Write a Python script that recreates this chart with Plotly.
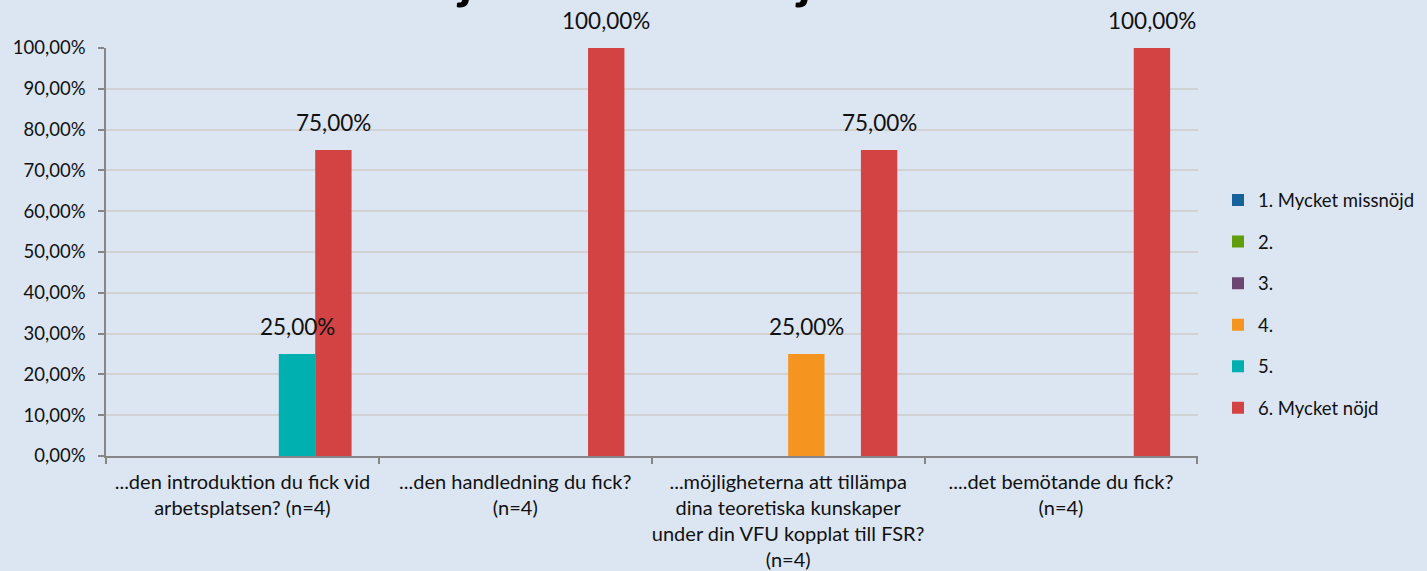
import plotly.graph_objects as go

categories = [
    "...den introduktion du fick vid<br>arbetsplatsen? (n=4)",
    "...den handledning du fick?<br>(n=4)",
    "...möjligheterna att tillämpa<br>dina teoretiska kunskaper<br>under din VFU kopplat till FSR?<br>(n=4)",
    "....det bemötande du fick?<br>(n=4)",
]
series_names = ["1. Mycket missnöjd", "2.", "3.", "4.", "5.", "6. Mycket nöjd"]
s1 = [0, 0, 0, 0]
s2 = [0, 0, 0, 0]
s3 = [0, 0, 0, 0]
s4 = [0, 0, 0.25, 0]
s5 = [0.25, 0, 0, 0]
s6 = [0.75, 1.0, 0.75, 1.0]
series_values = [s1, s2, s3, s4, s5, s6]
colors = ["#17629A", "#5F9D0B", "#6C4572", "#F5941F", "#00AFAF", "#D34344"]
title_text = "Hur nöjd eller missnöjd är du med..."

FONT = "Lato"
W, H = 1427, 571
ML, MR, MT, MB = 106, 229, 48, 115
BARGAP = 0.2
plot_w = W - ML - MR
plot_h = H - MT - MB
bar_w = plot_w / len(categories) * (1 - BARGAP) / len(series_names)

fig = go.Figure()
for i, (name, vals) in enumerate(zip(series_names, series_values)):
    fig.add_trace(go.Bar(
        x=categories, y=vals, name=name, marker_color=colors[i],
        marker_line_width=0, legendgroup=str(i),
    ))

annotations = []
for i, vals in enumerate(series_values):
    for c, v in zip(categories, vals):
        if v > 0:
            annotations.append(dict(
                x=c, y=v, xref="x", yref="y", text=f"{v*100:.2f}".replace(".", ",") + "%",
                showarrow=False, yanchor="bottom", xanchor="center",
                xshift=(i - 2.5) * bar_w, yshift=12,
                font=dict(family=FONT, size=22.5, color="#111111"),
            ))

annotations.append(dict(
    x=(712 - ML) / plot_w, y=1, xref="paper", yref="paper", text="<b>" + title_text + "</b>",
    showarrow=False, yanchor="bottom", xanchor="center", yshift=37,
    font=dict(family=FONT, size=53.5, color="#000000"),
))

fig.update_layout(
    width=W, height=H,
    margin=dict(l=ML, r=MR, t=MT, b=MB, pad=0, autoexpand=False),
    paper_bgcolor="#DCE6F2", plot_bgcolor="#DCE6F2",
    barmode="group", bargap=BARGAP, bargroupgap=0,
    separators=", ",
    font=dict(family=FONT, color="#111111"),
    showlegend=True,
    legend=dict(
        xref="container", x=1218 / W, xanchor="left",
        yref="paper", y=(H - MB - 304) / plot_h, yanchor="middle",
        bgcolor="rgba(0,0,0,0)", font=dict(family=FONT, size=18.5, color="#111111"),
        tracegroupgap=14.5, traceorder="grouped",
    ),
    annotations=annotations,
)
fig.update_yaxes(
    range=[0, 1], tickformat=".2%", dtick=0.1, automargin=False,
    showgrid=True, gridcolor="#D2D2D2", gridwidth=1.5,
    showline=True, linecolor="#868686", linewidth=1.5,
    ticks="outside", ticklen=6, tickcolor="#868686", tickwidth=1.5,
    ticklabelstandoff=9,
    zeroline=False, tickfont=dict(family=FONT, size=18.5, color="#111111"),
)
fig.update_xaxes(
    showline=True, linecolor="#868686", linewidth=1.5, automargin=False, tickangle=0,
    ticks="outside", ticklen=6, tickcolor="#868686", tickwidth=1.5,
    tickson="boundaries", showgrid=False, ticklabelstandoff=7,
    tickfont=dict(family=FONT, size=20, color="#111111"),
)

fig.write_html("out.html", config={"displayModeBar": False},
               post_script="document.body.style.margin='0';")
